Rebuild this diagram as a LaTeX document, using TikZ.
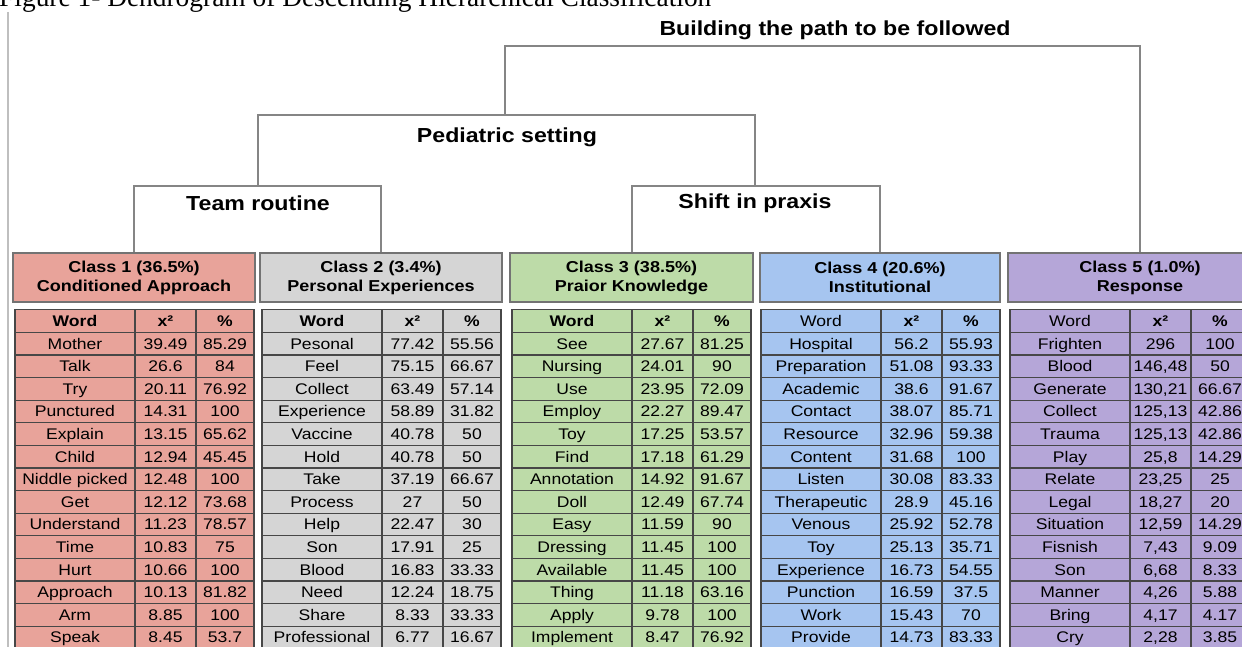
\documentclass[tikz,border=0pt]{standalone}
\usepackage{fontspec}
\setmainfont{Liberation Serif}
\newfontfamily\figfont[FakeStretch=1.14]{Liberation Sans}
\usepackage{tikz,xcolor}
\definecolor{cone}{RGB}{232,163,154}
\definecolor{ctwo}{RGB}{213,213,213}
\definecolor{cthree}{RGB}{189,219,168}
\definecolor{cfour}{RGB}{166,197,240}
\definecolor{cfive}{RGB}{181,166,216}

\begin{document}
\begin{tikzpicture}[x=1pt,y=-1pt,
  dendro/.style={draw=black!48,line width=2pt},
  lab/.style={inner sep=0pt,font=\figfont\bfseries\fontsize{20.3}{24}\selectfont},
  classbox/.style={draw=black!55,line width=1.5pt,minimum height=49pt,inner sep=0pt,align=center,font=\figfont\bfseries\fontsize{15.8}{19}\selectfont},
  cell/.style={draw=black!72,line width=1.2pt,minimum height=22.6pt,inner sep=0pt,text height=11pt,text depth=0pt,font=\figfont\fontsize{15.4}{16}\selectfont},
  wcol/.style={cell,minimum width=120pt},
  kcol/.style={cell,minimum width=61pt},
  pcol/.style={cell,minimum width=58pt}]
\useasboundingbox (0,0) rectangle (1242,647);
\clip (0,0) rectangle (1242,647);
\node[anchor=base west,inner sep=0pt,font=\fontsize{27.4}{30}\selectfont] (cap) at (-1,6.5) {Figure 1- Dendrogram of Descending Hierarchical Classification};
\coordinate (rtop) at (8,12);
\coordinate (rbot) at (8,647);
\draw[draw=black!25,line width=1.5pt] (rtop) -- (rbot);

\node[classbox,fill=cone,minimum width=242pt] (c1) at (134,277.5) {Class 1 (36.5\%)\\Conditioned Approach};
\node[classbox,fill=ctwo,minimum width=242pt] (c2) at (381,277.5) {Class 2 (3.4\%)\\Personal Experiences};
\node[classbox,fill=cthree,minimum width=243pt] (c3) at (631.5,277.5) {Class 3 (38.5\%)\\Praior Knowledge};
\node[classbox,fill=cfour,minimum width=240pt] (c4) at (880,277.5) {Class 4 (20.6\%)\\Institutional};
\node[classbox,fill=cfive,minimum width=264pt] (c5) at (1140,277.5) {Class 5 (1.0\%)\\Response};

\coordinate (tr) at (258,186);
\coordinate (sp) at (755,186);
\coordinate (ps) at (505,115);
\coordinate (bp) at (822,46);
\draw[dendro] (c1.north) |- (tr) -| (c2.north);
\draw[dendro] (c3.north) |- (sp) -| (c4.north);
\draw[dendro] (tr) |- (ps) -| (sp);
\draw[dendro] (ps) |- (bp) -| (c5.north);

\node[lab] (bl) at (835,30) {Building the path to be followed};
\node[lab] (pl) at (507,137) {Pediatric setting};
\node[lab] (tl) at (258,203) {Team routine};
\node[lab] (sl) at (755,203) {Shift in praxis};

\begin{scope}[xshift=15,cell/.append style={fill=cone}]
\node[wcol] (w1-0) at (60,321) {\textbf{Word}};
\node[kcol] (k1-0) at (150.5,321) {\textbf{x²}};
\node[pcol] (p1-0) at (210,321) {\textbf{\%}};
\foreach \w/\k/\p [count=\r] in {Mother/39.49/85.29, Talk/26.6/84, Try/20.11/76.92, Punctured/14.31/100, Explain/13.15/65.62, Child/12.94/45.45, Niddle picked/12.48/100, Get/12.12/73.68, Understand/11.23/78.57, Time/10.83/75, Hurt/10.66/100, Approach/10.13/81.82, Arm/8.85/100, Speak/8.45/53.7}{
  \node[wcol] (w1-\r) at (60,{332.3+(\r-0.5)*22.6}) {\w};
  \node[kcol] (k1-\r) at (150.5,{332.3+(\r-0.5)*22.6}) {\k};
  \node[pcol] (p1-\r) at (210,{332.3+(\r-0.5)*22.6}) {\p};
}
\end{scope}

\begin{scope}[xshift=262,cell/.append style={fill=ctwo}]
\node[wcol] (w2-0) at (60,321) {\textbf{Word}};
\node[kcol] (k2-0) at (150.5,321) {\textbf{x²}};
\node[pcol] (p2-0) at (210,321) {\textbf{\%}};
\foreach \w/\k/\p [count=\r] in {Pesonal/77.42/55.56, Feel/75.15/66.67, Collect/63.49/57.14, Experience/58.89/31.82, Vaccine/40.78/50, Hold/40.78/50, Take/37.19/66.67, Process/27/50, Help/22.47/30, Son/17.91/25, Blood/16.83/33.33, Need/12.24/18.75, Share/8.33/33.33, Professional/6.77/16.67}{
  \node[wcol] (w2-\r) at (60,{332.3+(\r-0.5)*22.6}) {\w};
  \node[kcol] (k2-\r) at (150.5,{332.3+(\r-0.5)*22.6}) {\k};
  \node[pcol] (p2-\r) at (210,{332.3+(\r-0.5)*22.6}) {\p};
}
\end{scope}

\begin{scope}[xshift=512,cell/.append style={fill=cthree}]
\node[wcol] (w3-0) at (60,321) {\textbf{Word}};
\node[kcol] (k3-0) at (150.5,321) {\textbf{x²}};
\node[pcol] (p3-0) at (210,321) {\textbf{\%}};
\foreach \w/\k/\p [count=\r] in {See/27.67/81.25, Nursing/24.01/90, Use/23.95/72.09, Employ/22.27/89.47, Toy/17.25/53.57, Find/17.18/61.29, Annotation/14.92/91.67, Doll/12.49/67.74, Easy/11.59/90, Dressing/11.45/100, Available/11.45/100, Thing/11.18/63.16, Apply/9.78/100, Implement/8.47/76.92}{
  \node[wcol] (w3-\r) at (60,{332.3+(\r-0.5)*22.6}) {\w};
  \node[kcol] (k3-\r) at (150.5,{332.3+(\r-0.5)*22.6}) {\k};
  \node[pcol] (p3-\r) at (210,{332.3+(\r-0.5)*22.6}) {\p};
}
\end{scope}

\begin{scope}[xshift=761,cell/.append style={fill=cfour}]
\node[wcol] (w4-0) at (60,321) {Word};
\node[kcol] (k4-0) at (150.5,321) {\textbf{x²}};
\node[pcol] (p4-0) at (210,321) {\textbf{\%}};
\foreach \w/\k/\p [count=\r] in {Hospital/56.2/55.93, Preparation/51.08/93.33, Academic/38.6/91.67, Contact/38.07/85.71, Resource/32.96/59.38, Content/31.68/100, Listen/30.08/83.33, Therapeutic/28.9/45.16, Venous/25.92/52.78, Toy/25.13/35.71, Experience/16.73/54.55, Punction/16.59/37.5, Work/15.43/70, Provide/14.73/83.33}{
  \node[wcol] (w4-\r) at (60,{332.3+(\r-0.5)*22.6}) {\w};
  \node[kcol] (k4-\r) at (150.5,{332.3+(\r-0.5)*22.6}) {\k};
  \node[pcol] (p4-\r) at (210,{332.3+(\r-0.5)*22.6}) {\p};
}
\end{scope}

\begin{scope}[xshift=1010,cell/.append style={fill=cfive}]
\node[wcol] (w5-0) at (60,321) {Word};
\node[kcol] (k5-0) at (150.5,321) {\textbf{x²}};
\node[pcol] (p5-0) at (210,321) {\textbf{\%}};
\foreach \w/\k/\p [count=\r] in {Frighten/296/100, Blood/{146,48}/50, Generate/{130,21}/66.67, Collect/{125,13}/42.86, Trauma/{125,13}/42.86, Play/{25,8}/14.29, Relate/{23,25}/25, Legal/{18,27}/20, Situation/{12,59}/14.29, Fisnish/{7,43}/9.09, Son/{6,68}/8.33, Manner/{4,26}/5.88, Bring/{4,17}/4.17, Cry/{2,28}/3.85}{
  \node[wcol] (w5-\r) at (60,{332.3+(\r-0.5)*22.6}) {\w};
  \node[kcol] (k5-\r) at (150.5,{332.3+(\r-0.5)*22.6}) {\k};
  \node[pcol] (p5-\r) at (210,{332.3+(\r-0.5)*22.6}) {\p};
}
\end{scope}
\end{tikzpicture}
\end{document}
